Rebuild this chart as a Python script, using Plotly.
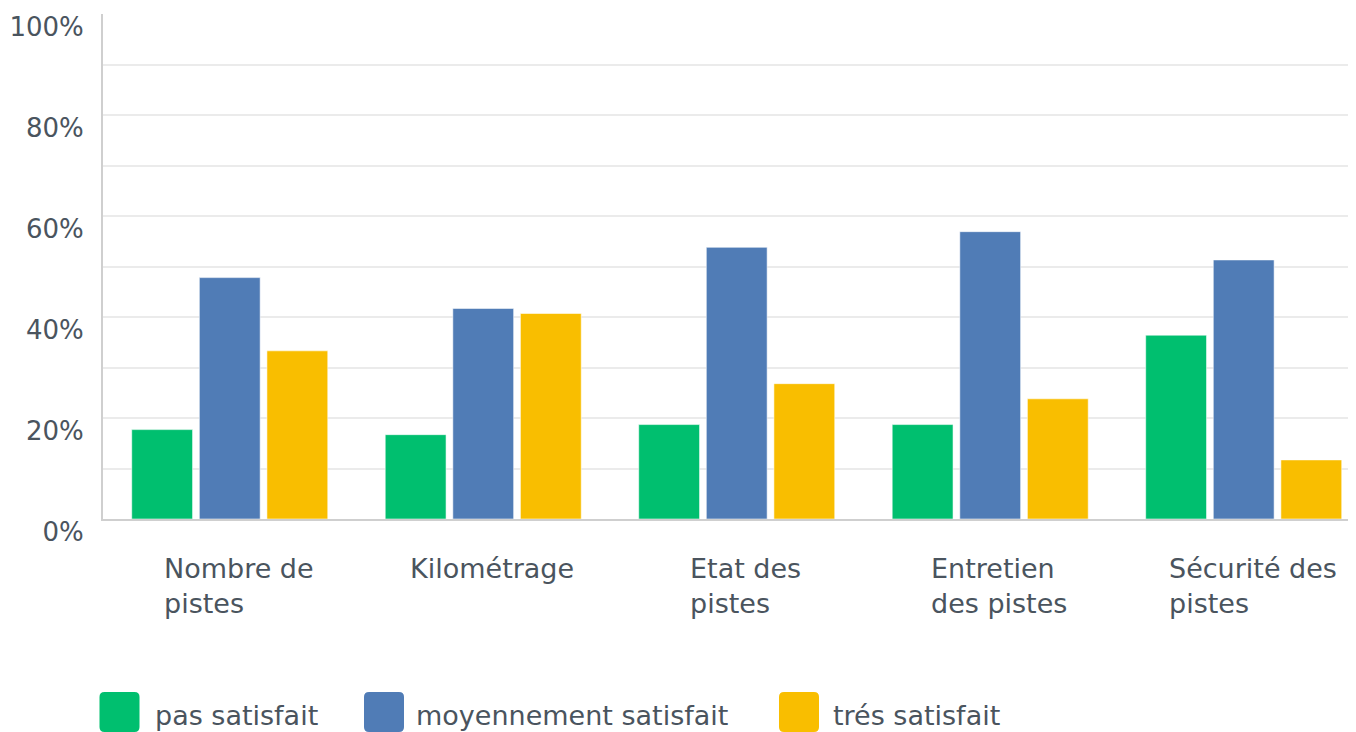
import plotly.graph_objects as go

# ---- data ----
categories = ["Nombre de pistes", "Kilométrage", "Etat des pistes",
              "Entretien des pistes", "Sécurité des pistes"]
category_labels = ["Nombre de<br>pistes", "Kilométrage", "Etat des<br>pistes",
                   "Entretien<br>des pistes", "Sécurité des<br>pistes"]
series_names = ["pas satisfait", "moyennement satisfait", "trés satisfait"]
pas_satisfait = [17.7, 16.7, 18.7, 18.7, 36.4]
moyennement_satisfait = [47.8, 41.7, 53.8, 56.9, 51.3]
tres_satisfait = [33.3, 40.7, 26.8, 23.8, 11.7]
y_tick_values = [0, 20, 40, 60, 80, 100]
y_tick_labels = ["0%", "20%", "40%", "60%", "80%", "100%"]

# ---- style ----
colors = ["#00BF6F", "#507CB6", "#F9BE00"]
FONT = "DejaVu Sans"
TXT = "#4a545e"
OFF = 8                      # page body margin
W, H = 1356 - OFF, 732 - OFF
# plot area in screen pixels: x 103..1356, y 14..519
ML, MR, MT, MB = 103 - OFF, 0, 14 - OFF, 732 - 519
PW, PH = W - ML - MR, H - MT - MB

def px_x(px):
    return (px - OFF - ML) / PW

def px_y(py):
    return (H - MB - (py - OFF)) / PH

fig = go.Figure()
for name, vals, col in zip(series_names,
                           [pas_satisfait, moyennement_satisfait, tres_satisfait],
                           colors):
    fig.add_trace(go.Bar(
        x=categories, y=vals, name=name,
        marker=dict(color=col, line=dict(color="rgba(255,255,255,0.55)", width=1)),
        showlegend=False, hoverinfo="x+y+name",
    ))

annotations = []
for cat, lab in zip(categories, category_labels):
    annotations.append(dict(
        x=cat, y=0, xref="x", yref="y", text=lab, showarrow=False,
        xanchor="center", yanchor="top", align="left",
        xshift=9, yshift=-32,
        font=dict(family=FONT, size=27, color=TXT),
    ))

# custom legend with large rounded swatches
shapes = []
swatch_centers = [119.5, 384, 799]
text_starts = [153, 414, 831]
sq = 20
r = 5
path = (f"M{-sq+r},{-sq} L{sq-r},{-sq} Q{sq},{-sq} {sq},{-sq+r} "
        f"L{sq},{sq-r} Q{sq},{sq} {sq-r},{sq} L{-sq+r},{sq} "
        f"Q{-sq},{sq} {-sq},{sq-r} L{-sq},{-sq+r} Q{-sq},{-sq} {-sq+r},{-sq} Z")
for name, col, cx, tx in zip(series_names, colors, swatch_centers, text_starts):
    shapes.append(dict(
        type="path", xref="paper", yref="paper",
        xsizemode="pixel", ysizemode="pixel",
        xanchor=px_x(cx), yanchor=px_y(712),
        path=path, fillcolor=col, line=dict(width=0),
    ))
    annotations.append(dict(
        x=px_x(tx), y=px_y(715), xref="paper", yref="paper",
        text=name, showarrow=False, xanchor="left", yanchor="middle",
        font=dict(family=FONT, size=27, color=TXT),
    ))

fig.update_layout(
    width=W, height=H,
    margin=dict(l=ML, r=MR, t=MT, b=MB, pad=0),
    paper_bgcolor="white", plot_bgcolor="white",
    barmode="group", bargap=0.2, bargroupgap=0.1,
    font=dict(family=FONT, size=26, color=TXT),
    xaxis=dict(
        type="category", range=[-0.5, 4.443],
        showticklabels=False, showgrid=False,
        showline=True, linecolor="#cfcfcf", linewidth=2,
        ticks="", zeroline=False,
    ),
    yaxis=dict(
        range=[0, 100], tickmode="array",
        tickvals=y_tick_values, ticktext=y_tick_labels,
        ticklabelshift=13, ticklabelstandoff=12,
        showgrid=True, gridcolor="#ebebeb", gridwidth=1.5,
        minor=dict(dtick=10, showgrid=True, gridcolor="#ebebeb", gridwidth=1.5),
        showline=True, linecolor="#cfcfcf", linewidth=2,
        zeroline=False, ticks="",
        tickfont=dict(family=FONT, size=26, color=TXT),
    ),
    shapes=shapes, annotations=annotations,
)

fig.write_html("out.html")
